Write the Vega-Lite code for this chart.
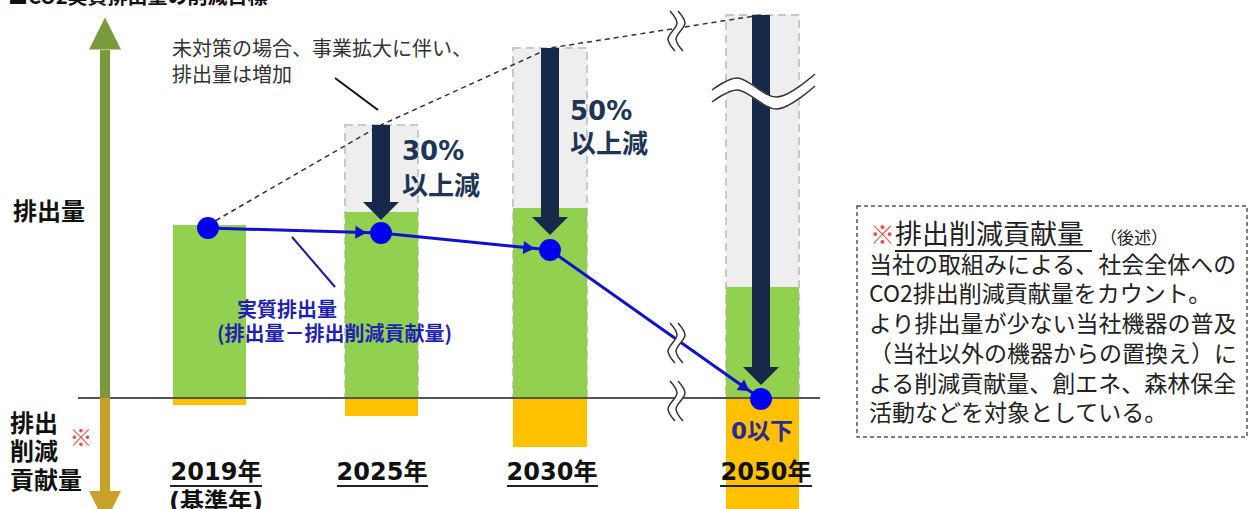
{
  "$schema": "https://vega.github.io/schema/vega-lite/v6.json",
  "width": 1250,
  "height": 509,
  "autosize": {"type": "none"},
  "padding": 0,
  "background": "white",
  "config": {"view": {"stroke": null}, "text": {"font": "Noto Sans CJK JP"}},
  "datasets": {
    "bars": [
      {"year": "2019年", "x0": 173, "x1": 246, "cx": 208, "emission": 173, "offset": -7, "bau": 173, "net": 170, "tip": null},
      {"year": "2025年", "x0": 345, "x1": 418, "cx": 381, "emission": 186, "offset": -18, "bau": 273, "net": 165, "tip": 178},
      {"year": "2030年", "x0": 513, "x1": 587, "cx": 550, "emission": 190, "offset": -49, "bau": 350, "net": 148, "tip": 163},
      {"year": "2050年", "x0": 726, "x1": 799, "cx": 761, "emission": 111, "offset": -111, "bau": 383, "net": -1, "tip": 13}
    ],
    "breaks": [
      {"id": "v1", "kind": "v", "part": "mid", "i": 0, "x": 674, "y": 387}, {"id": "v1", "kind": "v", "part": "mid", "i": 1, "x": 681, "y": 375}, {"id": "v1", "kind": "v", "part": "mid", "i": 2, "x": 672, "y": 359}, {"id": "v1", "kind": "v", "part": "mid", "i": 3, "x": 679, "y": 347},
      {"id": "v1", "kind": "v", "part": "a", "i": 0, "x": 670, "y": 387}, {"id": "v1", "kind": "v", "part": "a", "i": 1, "x": 677, "y": 375}, {"id": "v1", "kind": "v", "part": "a", "i": 2, "x": 668, "y": 359}, {"id": "v1", "kind": "v", "part": "a", "i": 3, "x": 675, "y": 347},
      {"id": "v1", "kind": "v", "part": "b", "i": 0, "x": 678, "y": 387}, {"id": "v1", "kind": "v", "part": "b", "i": 1, "x": 685, "y": 375}, {"id": "v1", "kind": "v", "part": "b", "i": 2, "x": 676, "y": 359}, {"id": "v1", "kind": "v", "part": "b", "i": 3, "x": 683, "y": 347},
      {"id": "v2", "kind": "v", "part": "mid", "i": 0, "x": 674, "y": 75}, {"id": "v2", "kind": "v", "part": "mid", "i": 1, "x": 681, "y": 63}, {"id": "v2", "kind": "v", "part": "mid", "i": 2, "x": 672, "y": 47}, {"id": "v2", "kind": "v", "part": "mid", "i": 3, "x": 679, "y": 35},
      {"id": "v2", "kind": "v", "part": "a", "i": 0, "x": 670, "y": 75}, {"id": "v2", "kind": "v", "part": "a", "i": 1, "x": 677, "y": 63}, {"id": "v2", "kind": "v", "part": "a", "i": 2, "x": 668, "y": 47}, {"id": "v2", "kind": "v", "part": "a", "i": 3, "x": 675, "y": 35},
      {"id": "v2", "kind": "v", "part": "b", "i": 0, "x": 678, "y": 75}, {"id": "v2", "kind": "v", "part": "b", "i": 1, "x": 685, "y": 63}, {"id": "v2", "kind": "v", "part": "b", "i": 2, "x": 676, "y": 47}, {"id": "v2", "kind": "v", "part": "b", "i": 3, "x": 683, "y": 35},
      {"id": "v3", "kind": "v", "part": "mid", "i": 0, "x": 674, "y": 17}, {"id": "v3", "kind": "v", "part": "mid", "i": 1, "x": 681, "y": 5}, {"id": "v3", "kind": "v", "part": "mid", "i": 2, "x": 672, "y": -11}, {"id": "v3", "kind": "v", "part": "mid", "i": 3, "x": 679, "y": -23},
      {"id": "v3", "kind": "v", "part": "a", "i": 0, "x": 670, "y": 17}, {"id": "v3", "kind": "v", "part": "a", "i": 1, "x": 677, "y": 5}, {"id": "v3", "kind": "v", "part": "a", "i": 2, "x": 668, "y": -11}, {"id": "v3", "kind": "v", "part": "a", "i": 3, "x": 675, "y": -23},
      {"id": "v3", "kind": "v", "part": "b", "i": 0, "x": 678, "y": 17}, {"id": "v3", "kind": "v", "part": "b", "i": 1, "x": 685, "y": 5}, {"id": "v3", "kind": "v", "part": "b", "i": 2, "x": 676, "y": -11}, {"id": "v3", "kind": "v", "part": "b", "i": 3, "x": 683, "y": -23},
      {"id": "h1", "kind": "h", "part": "mid", "i": 0, "x": 712, "y": 302}, {"id": "h1", "kind": "h", "part": "mid", "i": 1, "x": 737, "y": 314}, {"id": "h1", "kind": "h", "part": "mid", "i": 2, "x": 777, "y": 295}, {"id": "h1", "kind": "h", "part": "mid", "i": 3, "x": 815, "y": 318},
      {"id": "h1", "kind": "h", "part": "a", "i": 0, "x": 712, "y": 308}, {"id": "h1", "kind": "h", "part": "a", "i": 1, "x": 737, "y": 320}, {"id": "h1", "kind": "h", "part": "a", "i": 2, "x": 777, "y": 301}, {"id": "h1", "kind": "h", "part": "a", "i": 3, "x": 815, "y": 324},
      {"id": "h1", "kind": "h", "part": "b", "i": 0, "x": 712, "y": 296}, {"id": "h1", "kind": "h", "part": "b", "i": 1, "x": 737, "y": 308}, {"id": "h1", "kind": "h", "part": "b", "i": 2, "x": 777, "y": 289}, {"id": "h1", "kind": "h", "part": "b", "i": 3, "x": 815, "y": 312}
    ]
  },
  "layer": [
    {
      "data": {"name": "bars"},
      "transform": [{"filter": "datum.bau > datum.emission"}],
      "mark": {"type": "rect", "fill": "#eeeeee", "stroke": "#c8c8c8", "strokeWidth": 2, "strokeDash": [8, 5]},
      "encoding": {
        "x": {"field": "x0", "type": "quantitative", "scale": {"domain": [0, 1250], "nice": false}, "axis": null},
        "x2": {"field": "x1"},
        "y": {"field": "bau", "type": "quantitative", "scale": {"domain": [-111, 398], "nice": false}, "axis": null},
        "y2": {"datum": 0}
      }
    },
    {
      "data": {"name": "bars"},
      "mark": {"type": "rect", "fill": "#92d050"},
      "encoding": {
        "x": {"field": "x0", "type": "quantitative", "scale": {"domain": [0, 1250], "nice": false}, "axis": null},
        "x2": {"field": "x1"},
        "y": {"field": "emission", "type": "quantitative", "scale": {"domain": [-111, 398], "nice": false}, "axis": null},
        "y2": {"datum": 0}
      }
    },
    {
      "data": {"name": "bars"},
      "mark": {"type": "rect", "fill": "#ffc000"},
      "encoding": {
        "x": {"field": "x0", "type": "quantitative", "scale": {"domain": [0, 1250], "nice": false}, "axis": null},
        "x2": {"field": "x1"},
        "y": {"field": "offset", "type": "quantitative", "scale": {"domain": [-111, 398], "nice": false}, "axis": null},
        "y2": {"datum": 0}
      }
    },
    {
      "data": {"values": [{"x": 78, "x2": 820, "y": 0}]},
      "mark": {"type": "rule", "color": "#555555", "strokeWidth": 2},
      "encoding": {
        "x": {"field": "x", "type": "quantitative", "scale": {"domain": [0, 1250], "nice": false}, "axis": null},
        "x2": {"field": "x2"},
        "y": {"field": "y", "type": "quantitative", "scale": {"domain": [-111, 398], "nice": false}, "axis": null}
      }
    },
    {
      "data": {"name": "bars"},
      "mark": {"type": "line", "color": "#333333", "strokeWidth": 1.5, "strokeDash": [5, 4]},
      "encoding": {
        "x": {"field": "cx", "type": "quantitative", "scale": {"domain": [0, 1250], "nice": false}, "axis": null},
        "y": {"field": "bau", "type": "quantitative", "scale": {"domain": [-111, 398], "nice": false}, "axis": null}
      }
    },
    {
      "data": {"name": "bars"},
      "transform": [{"filter": "datum.bau > datum.emission"}],
      "mark": {"type": "rule", "color": "#16294a", "strokeWidth": 18, "y2Offset": -18},
      "encoding": {
        "x": {"field": "cx", "type": "quantitative", "scale": {"domain": [0, 1250], "nice": false}, "axis": null},
        "y": {"field": "bau", "type": "quantitative", "scale": {"domain": [-111, 398], "nice": false}, "axis": null},
        "y2": {"field": "tip"}
      }
    },
    {
      "data": {"name": "bars"},
      "transform": [{"filter": "datum.bau > datum.emission"}],
      "mark": {"type": "point", "shape": "M-1,-0.5L1,-0.5L0,0.5Z", "size": 1296, "filled": true, "opacity": 1, "color": "#16294a", "yOffset": -9},
      "encoding": {
        "x": {"field": "cx", "type": "quantitative", "scale": {"domain": [0, 1250], "nice": false}, "axis": null},
        "y": {"field": "tip", "type": "quantitative", "scale": {"domain": [-111, 398], "nice": false}, "axis": null}
      }
    },
    {
      "data": {"name": "bars"},
      "mark": {"type": "line", "color": "#1010d0", "strokeWidth": 3},
      "encoding": {
        "x": {"field": "cx", "type": "quantitative", "scale": {"domain": [0, 1250], "nice": false}, "axis": null},
        "y": {"field": "net", "type": "quantitative", "scale": {"domain": [-111, 398], "nice": false}, "axis": null}
      }
    },
    {
      "data": {"values": [{"x": 361, "y": 165.5, "angle": 2}, {"x": 529, "y": 150, "angle": 6}, {"x": 745, "y": 10, "angle": 35}]},
      "mark": {"type": "point", "shape": "triangle-right", "size": 170, "filled": true, "opacity": 1, "color": "#1010d0"},
      "encoding": {
        "x": {"field": "x", "type": "quantitative", "scale": {"domain": [0, 1250], "nice": false}, "axis": null},
        "y": {"field": "y", "type": "quantitative", "scale": {"domain": [-111, 398], "nice": false}, "axis": null},
        "angle": {"field": "angle", "type": "quantitative", "scale": null}
      }
    },
    {
      "data": {"name": "bars"},
      "mark": {"type": "point", "shape": "circle", "size": 480, "filled": true, "opacity": 1, "color": "#0000ee"},
      "encoding": {
        "x": {"field": "cx", "type": "quantitative", "scale": {"domain": [0, 1250], "nice": false}, "axis": null},
        "y": {"field": "net", "type": "quantitative", "scale": {"domain": [-111, 398], "nice": false}, "axis": null}
      }
    },
    {
      "data": {"name": "breaks"},
      "transform": [{"filter": "datum.part == 'mid' && datum.kind == 'h'"}],
      "mark": {"type": "line", "color": "white", "strokeWidth": 11, "interpolate": "catmull-rom"},
      "encoding": {
        "x": {"field": "x", "type": "quantitative", "scale": {"domain": [0, 1250], "nice": false}, "axis": null},
        "y": {"field": "y", "type": "quantitative", "scale": {"domain": [-111, 398], "nice": false}, "axis": null},
        "detail": {"field": "id"},
        "order": {"field": "i"}
      }
    },
    {
      "data": {"name": "breaks"},
      "transform": [{"filter": "datum.part == 'mid' && datum.kind == 'v'"}],
      "mark": {"type": "line", "color": "white", "strokeWidth": 7, "interpolate": "catmull-rom"},
      "encoding": {
        "x": {"field": "x", "type": "quantitative", "scale": {"domain": [0, 1250], "nice": false}, "axis": null},
        "y": {"field": "y", "type": "quantitative", "scale": {"domain": [-111, 398], "nice": false}, "axis": null},
        "detail": {"field": "id"},
        "order": {"field": "i"}
      }
    },
    {
      "data": {"name": "breaks"},
      "transform": [{"filter": "datum.part != 'mid'"}],
      "mark": {"type": "line", "color": "#333333", "strokeWidth": 1.5, "interpolate": "catmull-rom"},
      "encoding": {
        "x": {"field": "x", "type": "quantitative", "scale": {"domain": [0, 1250], "nice": false}, "axis": null},
        "y": {"field": "y", "type": "quantitative", "scale": {"domain": [-111, 398], "nice": false}, "axis": null},
        "detail": [{"field": "id"}, {"field": "part"}],
        "order": {"field": "i"}
      }
    },
    {
      "data": {"values": [{"x": 335, "y": 320, "x2": 378, "y2": 288}]},
      "mark": {"type": "rule", "color": "#111111", "strokeWidth": 2},
      "encoding": {
        "x": {"field": "x", "type": "quantitative", "scale": {"domain": [0, 1250], "nice": false}, "axis": null},
        "y": {"field": "y", "type": "quantitative", "scale": {"domain": [-111, 398], "nice": false}, "axis": null},
        "x2": {"field": "x2"},
        "y2": {"field": "y2"}
      }
    },
    {
      "data": {"values": [{"x": 292, "y": 161, "x2": 335, "y2": 111}]},
      "mark": {"type": "rule", "color": "#1a1a9a", "strokeWidth": 2},
      "encoding": {
        "x": {"field": "x", "type": "quantitative", "scale": {"domain": [0, 1250], "nice": false}, "axis": null},
        "y": {"field": "y", "type": "quantitative", "scale": {"domain": [-111, 398], "nice": false}, "axis": null},
        "x2": {"field": "x2"},
        "y2": {"field": "y2"}
      }
    },
    {
      "data": {"values": [{"x": 105, "y": 0, "y2": 348}]},
      "mark": {"type": "rule", "color": "#7b9a3d", "strokeWidth": 10},
      "encoding": {
        "x": {"field": "x", "type": "quantitative", "scale": {"domain": [0, 1250], "nice": false}, "axis": null},
        "y": {"field": "y", "type": "quantitative", "scale": {"domain": [-111, 398], "nice": false}, "axis": null},
        "y2": {"field": "y2"}
      }
    },
    {
      "data": {"values": [{"x": 105, "y": 0, "y2": -93}]},
      "mark": {"type": "rule", "color": "#c9a028", "strokeWidth": 10},
      "encoding": {
        "x": {"field": "x", "type": "quantitative", "scale": {"domain": [0, 1250], "nice": false}, "axis": null},
        "y": {"field": "y", "type": "quantitative", "scale": {"domain": [-111, 398], "nice": false}, "axis": null},
        "y2": {"field": "y2"}
      }
    },
    {
      "data": {"values": [{"x": 105, "y": 364.5}]},
      "mark": {"type": "point", "shape": "M0,-1L1,1L-1,1Z", "size": 1024, "filled": true, "opacity": 1, "color": "#7b9a3d"},
      "encoding": {
        "x": {"field": "x", "type": "quantitative", "scale": {"domain": [0, 1250], "nice": false}, "axis": null},
        "y": {"field": "y", "type": "quantitative", "scale": {"domain": [-111, 398], "nice": false}, "axis": null}
      }
    },
    {
      "data": {"values": [{"x": 105, "y": -109}]},
      "mark": {"type": "point", "shape": "M-1,-1L1,-1L0,1Z", "size": 1024, "filled": true, "opacity": 1, "color": "#c9a028"},
      "encoding": {
        "x": {"field": "x", "type": "quantitative", "scale": {"domain": [0, 1250], "nice": false}, "axis": null},
        "y": {"field": "y", "type": "quantitative", "scale": {"domain": [-111, 398], "nice": false}, "axis": null}
      }
    },
    {
      "data": {"values": [{"x": 8, "y": 394, "t": "■CO2実質排出量の削減目標"}]},
      "mark": {"type": "text", "align": "left", "baseline": "alphabetic", "fontSize": 20, "fontWeight": "bold", "color": "#111111"},
      "encoding": {
        "x": {"field": "x", "type": "quantitative", "scale": {"domain": [0, 1250], "nice": false}, "axis": null},
        "y": {"field": "y", "type": "quantitative", "scale": {"domain": [-111, 398], "nice": false}, "axis": null},
        "text": {"field": "t"}
      }
    },
    {
      "data": {"values": [{"x": 172, "y": 348, "t": "未対策の場合、事業拡大に伴い、"}, {"x": 172, "y": 322, "t": "排出量は増加"}]},
      "mark": {"type": "text", "align": "left", "baseline": "middle", "fontSize": 20, "color": "#333333"},
      "encoding": {
        "x": {"field": "x", "type": "quantitative", "scale": {"domain": [0, 1250], "nice": false}, "axis": null},
        "y": {"field": "y", "type": "quantitative", "scale": {"domain": [-111, 398], "nice": false}, "axis": null},
        "text": {"field": "t"}
      }
    },
    {
      "data": {"values": [{"x": 402, "y": 246, "t": "30%"}, {"x": 402, "y": 211, "t": "以上減"}, {"x": 570, "y": 286, "t": "50%"}, {"x": 570, "y": 253, "t": "以上減"}]},
      "mark": {"type": "text", "align": "left", "baseline": "middle", "fontSize": 26, "fontWeight": "bold", "font": "DejaVu Sans, Noto Sans CJK JP", "color": "#1e3555"},
      "encoding": {
        "x": {"field": "x", "type": "quantitative", "scale": {"domain": [0, 1250], "nice": false}, "axis": null},
        "y": {"field": "y", "type": "quantitative", "scale": {"domain": [-111, 398], "nice": false}, "axis": null},
        "text": {"field": "t"}
      }
    },
    {
      "data": {"values": [{"x": 237, "y": 87, "t": "実質排出量"}, {"x": 217, "y": 63, "t": "(排出量－排出削減貢献量)"}]},
      "mark": {"type": "text", "align": "left", "baseline": "middle", "fontSize": 20, "fontWeight": "bold", "color": "#1f1fb4"},
      "encoding": {
        "x": {"field": "x", "type": "quantitative", "scale": {"domain": [0, 1250], "nice": false}, "axis": null},
        "y": {"field": "y", "type": "quantitative", "scale": {"domain": [-111, 398], "nice": false}, "axis": null},
        "text": {"field": "t"}
      }
    },
    {
      "data": {"values": [{"x": 762, "y": -34, "t": "0以下"}]},
      "mark": {"type": "text", "align": "center", "baseline": "middle", "fontSize": 23, "fontWeight": "bold", "font": "DejaVu Sans, Noto Sans CJK JP", "color": "#2a2a90"},
      "encoding": {
        "x": {"field": "x", "type": "quantitative", "scale": {"domain": [0, 1250], "nice": false}, "axis": null},
        "y": {"field": "y", "type": "quantitative", "scale": {"domain": [-111, 398], "nice": false}, "axis": null},
        "text": {"field": "t"}
      }
    },
    {
      "data": {"values": [{"x": 216, "y": -75, "t": "2019年"}, {"x": 382, "y": -75, "t": "2025年"}, {"x": 552, "y": -75, "t": "2030年"}, {"x": 766, "y": -75, "t": "2050年"}, {"x": 216, "y": -105, "t": "(基準年)"}]},
      "mark": {"type": "text", "align": "center", "baseline": "middle", "fontSize": 24, "fontWeight": "bold", "font": "DejaVu Sans, Noto Sans CJK JP", "color": "#111111"},
      "encoding": {
        "x": {"field": "x", "type": "quantitative", "scale": {"domain": [0, 1250], "nice": false}, "axis": null},
        "y": {"field": "y", "type": "quantitative", "scale": {"domain": [-111, 398], "nice": false}, "axis": null},
        "text": {"field": "t"}
      }
    },
    {
      "data": {"values": [{"x": 170, "x2": 262, "y": -88}, {"x": 337, "x2": 428, "y": -88}, {"x": 507, "x2": 598, "y": -88}, {"x": 720, "x2": 812, "y": -88}, {"x": 895, "x2": 1092, "y": 147}]},
      "mark": {"type": "rule", "color": "#222222", "strokeWidth": 2},
      "encoding": {
        "x": {"field": "x", "type": "quantitative", "scale": {"domain": [0, 1250], "nice": false}, "axis": null},
        "x2": {"field": "x2"},
        "y": {"field": "y", "type": "quantitative", "scale": {"domain": [-111, 398], "nice": false}, "axis": null}
      }
    },
    {
      "data": {"values": [{"x": 13, "y": 185, "t": "排出量"}, {"x": 10, "y": -27, "t": "排出"}, {"x": 10, "y": -55, "t": "削減"}, {"x": 10, "y": -84, "t": "貢献量"}]},
      "mark": {"type": "text", "align": "left", "baseline": "middle", "fontSize": 24, "fontWeight": "bold", "color": "#111111"},
      "encoding": {
        "x": {"field": "x", "type": "quantitative", "scale": {"domain": [0, 1250], "nice": false}, "axis": null},
        "y": {"field": "y", "type": "quantitative", "scale": {"domain": [-111, 398], "nice": false}, "axis": null},
        "text": {"field": "t"}
      }
    },
    {
      "data": {"values": [{"x": 81, "y": -41, "t": "※"}]},
      "mark": {"type": "text", "align": "center", "baseline": "middle", "fontSize": 23, "color": "#e8504a"},
      "encoding": {
        "x": {"field": "x", "type": "quantitative", "scale": {"domain": [0, 1250], "nice": false}, "axis": null},
        "y": {"field": "y", "type": "quantitative", "scale": {"domain": [-111, 398], "nice": false}, "axis": null},
        "text": {"field": "t"}
      }
    },
    {
      "data": {"values": [{"x": 857, "x2": 1247, "y": 192, "y2": -39}]},
      "mark": {"type": "rect", "fill": null, "filled": false, "stroke": "#555555", "strokeWidth": 1.5, "strokeDash": [4, 3]},
      "encoding": {
        "x": {"field": "x", "type": "quantitative", "scale": {"domain": [0, 1250], "nice": false}, "axis": null},
        "x2": {"field": "x2"},
        "y": {"field": "y", "type": "quantitative", "scale": {"domain": [-111, 398], "nice": false}, "axis": null},
        "y2": {"field": "y2"}
      }
    },
    {
      "data": {"values": [{"x": 870, "y": 162, "t": "※"}]},
      "mark": {"type": "text", "align": "left", "baseline": "middle", "fontSize": 25, "color": "#e8504a"},
      "encoding": {
        "x": {"field": "x", "type": "quantitative", "scale": {"domain": [0, 1250], "nice": false}, "axis": null},
        "y": {"field": "y", "type": "quantitative", "scale": {"domain": [-111, 398], "nice": false}, "axis": null},
        "text": {"field": "t"}
      }
    },
    {
      "data": {"values": [{"x": 895, "y": 162, "t": "排出削減貢献量"}]},
      "mark": {"type": "text", "align": "left", "baseline": "middle", "fontSize": 27, "color": "#222222"},
      "encoding": {
        "x": {"field": "x", "type": "quantitative", "scale": {"domain": [0, 1250], "nice": false}, "axis": null},
        "y": {"field": "y", "type": "quantitative", "scale": {"domain": [-111, 398], "nice": false}, "axis": null},
        "text": {"field": "t"}
      }
    },
    {
      "data": {"values": [{"x": 1100, "y": 159, "t": "（後述）"}]},
      "mark": {"type": "text", "align": "left", "baseline": "middle", "fontSize": 17, "color": "#222222"},
      "encoding": {
        "x": {"field": "x", "type": "quantitative", "scale": {"domain": [0, 1250], "nice": false}, "axis": null},
        "y": {"field": "y", "type": "quantitative", "scale": {"domain": [-111, 398], "nice": false}, "axis": null},
        "text": {"field": "t"}
      }
    },
    {
      "data": {"values": [
        {"x": 869, "y": 132.5, "t": "当社の取組みによる、社会全体への"},
        {"x": 869, "y": 103, "t": "CO2排出削減貢献量をカウント。"},
        {"x": 869, "y": 73, "t": "より排出量が少ない当社機器の普及"},
        {"x": 869, "y": 43, "t": "（当社以外の機器からの置換え）に"},
        {"x": 869, "y": 13.5, "t": "よる削減貢献量、創エネ、森林保全"},
        {"x": 869, "y": -16, "t": "活動などを対象としている。"}
      ]},
      "mark": {"type": "text", "align": "left", "baseline": "middle", "fontSize": 23, "color": "#222222"},
      "encoding": {
        "x": {"field": "x", "type": "quantitative", "scale": {"domain": [0, 1250], "nice": false}, "axis": null},
        "y": {"field": "y", "type": "quantitative", "scale": {"domain": [-111, 398], "nice": false}, "axis": null},
        "text": {"field": "t"}
      }
    }
  ]
}
